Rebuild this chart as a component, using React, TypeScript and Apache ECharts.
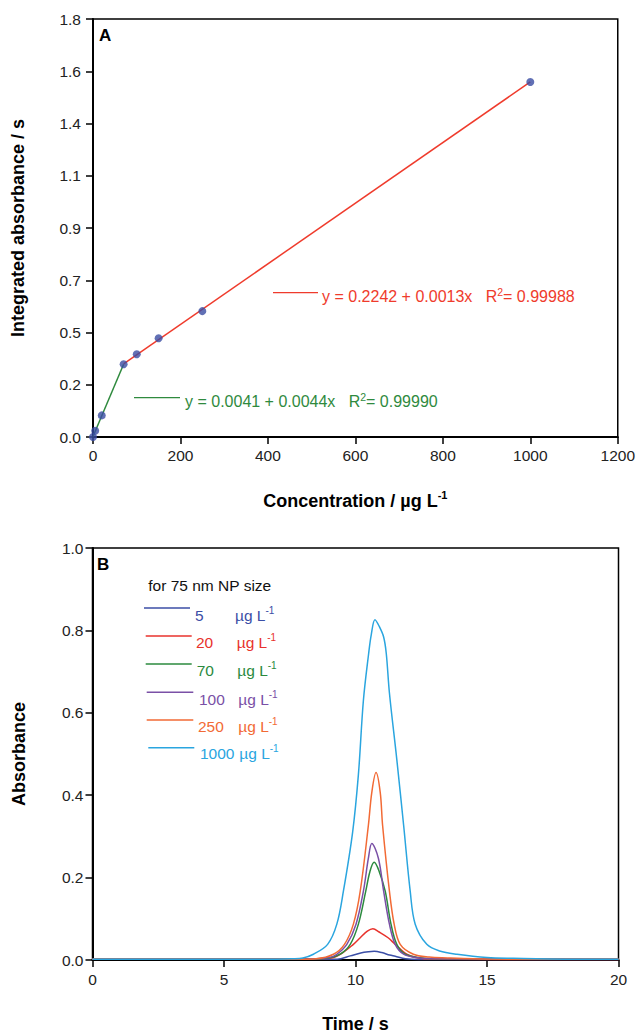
import React, { useEffect, useRef } from "react";
import * as echarts from "echarts";

// ---------- Panel A data ----------
const concX = [0, 5, 20, 70, 100, 150, 250, 1000];
const integratedAbs = [0, 0.027, 0.093, 0.313, 0.356, 0.425, 0.542, 1.529];
const greenFit: [number, number][] = [[0, 0.002], [70, 0.313]];
const redFit: [number, number][] = [[70, 0.315], [1000, 1.529]];
const yTickLabelsA = ["0.0", "0.2", "0.5", "0.7", "0.9", "1.1", "1.4", "1.6", "1.8"];
const xTickLabelsA = ["0", "200", "400", "600", "800", "1000", "1200"];

// ---------- Panel B data (time s, absorbance) ----------
const trace5: [number, number][] = [
  [0, 0.002], [4, 0.002], [8, 0.002], [9.3, 0.002], [9.8, 0.01], [10.2, 0.017], [10.5, 0.02],
  [10.71, 0.021], [11.0, 0.018], [11.3, 0.012], [11.51, 0.009], [11.9, 0.003], [12.4, 0.001],
  [14, 0.001], [20, 0.001],
];
const trace20: [number, number][] = [
  [0, 0.002], [4, 0.002], [8, 0.002], [9.0, 0.004], [9.42, 0.014], [9.92, 0.038], [10.18, 0.054],
  [10.45, 0.07], [10.66, 0.076], [10.9, 0.068], [11.24, 0.054], [11.51, 0.038], [11.95, 0.014],
  [12.4, 0.005], [13, 0.002], [20, 0.001],
];
const trace70: [number, number][] = [
  [0, 0.002], [4, 0.002], [8, 0.002], [9.0, 0.005], [9.42, 0.014], [9.8, 0.038], [10.11, 0.087],
  [10.39, 0.167], [10.55, 0.215], [10.71, 0.237], [10.9, 0.215], [11.13, 0.167], [11.35, 0.087],
  [11.57, 0.038], [11.89, 0.014], [12.4, 0.006], [13, 0.003], [20, 0.002],
];
const trace100: [number, number][] = [
  [0, 0.002], [4, 0.002], [8, 0.002], [9.0, 0.006], [9.29, 0.014], [9.67, 0.038], [10.02, 0.087],
  [10.3, 0.167], [10.49, 0.247], [10.62, 0.283], [10.87, 0.247], [11.07, 0.167], [11.29, 0.087],
  [11.51, 0.038], [11.83, 0.014], [12.3, 0.006], [13, 0.003], [20, 0.002],
];
const trace250: [number, number][] = [
  [0, 0.002], [4, 0.002], [8, 0.002], [8.5, 0.003], [9.16, 0.014], [9.58, 0.038], [9.92, 0.087],
  [10.18, 0.167], [10.49, 0.327], [10.62, 0.407], [10.78, 0.455], [10.94, 0.407], [11.03, 0.327],
  [11.29, 0.167], [11.47, 0.087], [11.7, 0.038], [12.2, 0.014], [12.8, 0.007], [13.5, 0.005],
  [14.5, 0.003], [16, 0.002], [20, 0.002],
];
const trace1000: [number, number][] = [
  [0, 0.002], [4, 0.002], [7, 0.002], [7.6, 0.003], [8.0, 0.005], [8.4, 0.014], [8.94, 0.038],
  [9.29, 0.087], [9.54, 0.167], [9.89, 0.31], [10.11, 0.45], [10.3, 0.63], [10.5, 0.744],
  [10.6, 0.79], [10.74, 0.826], [10.9, 0.81], [11.07, 0.784], [11.17, 0.744], [11.29, 0.648],
  [11.57, 0.487], [11.83, 0.327], [12.08, 0.167], [12.27, 0.087], [12.71, 0.038], [13.2, 0.022],
  [13.86, 0.014], [15, 0.006], [16, 0.004], [18, 0.002], [20, 0.002],
];
const legendNums = ["5", "20", "70", "100", "250", "1000"];
const seriesColors = ["#3b4ea6", "#e8322c", "#2b8a3e", "#7a50a6", "#f26a35", "#2aa5df"];
const traces = [trace5, trace20, trace70, trace100, trace250, trace1000];
const yTickLabelsB = ["0.0", "0.2", "0.4", "0.6", "0.8", "1.0"];
const xTickLabelsB = ["0", "5", "10", "15", "20"];

const FONT = "'Liberation Sans', Arial, Helvetica, sans-serif";

export default function App() {
  const ref = useRef<HTMLDivElement>(null);
  useEffect(() => {
    if (!ref.current) return;
    const chart = echarts.init(ref.current, undefined, { renderer: "svg" });

    const axisCommon = {
      axisLine: { show: true, lineStyle: { color: "#000", width: 2 } },
      axisTick: { show: true, inside: false, length: 7, lineStyle: { color: "#000", width: 1.5 } },
      splitLine: { show: false },
    };
    const labelStyle = { color: "#222", fontSize: 15.5, fontFamily: FONT };
    const nameStyle = {
      color: "#000",
      fontSize: 18,
      fontWeight: "bold",
      fontFamily: FONT,
      rich: {
        b: { fontSize: 18, fontWeight: "bold", fontFamily: FONT, color: "#000" },
        s: { fontSize: 11, fontWeight: "bold", fontFamily: FONT, color: "#000", verticalAlign: "top", padding: [0, 0, 12, 0] },
      },
    };

    const legendGraphics: any[] = [];
    const lineRows = [
      { y: 608, x1: 144, x2: 190, nx: 195, ux: 235, ty: 615 },
      { y: 636, x1: 145.7, x2: 191.7, nx: 196, ux: 236.7, ty: 642.7 },
      { y: 664, x1: 145.7, x2: 191.7, nx: 196.7, ux: 237.3, ty: 670.7 },
      { y: 692.3, x1: 146.7, x2: 193.3, nx: 199, ux: 238.3, ty: 699 },
      { y: 720, x1: 146.7, x2: 193.3, nx: 198, ux: 238.3, ty: 726.7 },
      { y: 747.7, x1: 148.3, x2: 194.3, nx: 200, ux: 239.3, ty: 753.3 },
    ];
    lineRows.forEach((r, i) => {
      const c = seriesColors[i];
      legendGraphics.push({
        type: "line",
        shape: { x1: r.x1, y1: r.y, x2: r.x2, y2: r.y },
        style: { stroke: c, lineWidth: 1.5 },
      });
      legendGraphics.push({
        type: "text",
        x: r.nx,
        y: r.ty,
        style: { text: legendNums[i], fill: c, font: `15.5px ${FONT}`, verticalAlign: "middle" },
      });
      legendGraphics.push({
        type: "text",
        x: r.ux,
        y: r.ty,
        style: {
          text: "{n|µg L}{s|-1}",
          verticalAlign: "middle",
          rich: {
            n: { fill: c, fontSize: 15.5, fontFamily: FONT },
            s: { fill: c, fontSize: 10, fontFamily: FONT, verticalAlign: "top", padding: [0, 0, 10, 0] },
          } as any,
        },
      });
    });

    const option: any = {
      animation: false,
      backgroundColor: "#fff",
      grid: [
        { left: 93, top: 19, width: 527, height: 418, show: true, borderColor: "#000", borderWidth: 1.5 },
        { left: 92.5, top: 548, width: 526, height: 415, show: true, borderColor: "#000", borderWidth: 1.5 },
      ],
      xAxis: [
        {
          gridIndex: 0,
          type: "value",
          min: 0,
          max: 1200,
          interval: 200,
          ...axisCommon,
          axisLabel: { ...labelStyle, margin: 10, formatter: (v: number) => xTickLabelsA[Math.round(v / 200)] },
          name: "{b|Concentration / µg L}{s|-1}",
          nameLocation: "middle",
          nameGap: 52,
          nameTextStyle: nameStyle,
        },
        {
          gridIndex: 1,
          type: "value",
          min: 0,
          max: 20,
          interval: 5,
          ...axisCommon,
          axisLabel: { ...labelStyle, margin: 11, formatter: (v: number) => xTickLabelsB[Math.round(v / 5)] },
          name: "Time / s",
          nameLocation: "middle",
          nameGap: 55,
          nameTextStyle: nameStyle,
        },
      ],
      yAxis: [
        {
          gridIndex: 0,
          type: "value",
          min: 0,
          max: 1.8,
          interval: 0.225,
          ...axisCommon,
          axisLabel: { ...labelStyle, margin: 12, formatter: (v: number) => yTickLabelsA[Math.round(v / 0.225)] },
          name: "Integrated absorbance / s",
          nameLocation: "middle",
          nameGap: 66,
          nameTextStyle: nameStyle,
        },
        {
          gridIndex: 1,
          type: "value",
          min: 0,
          max: 1.0,
          interval: 0.2,
          ...axisCommon,
          axisLabel: { ...labelStyle, margin: 9, formatter: (v: number) => yTickLabelsB[Math.round(v / 0.2)] },
          name: "Absorbance",
          nameLocation: "middle",
          nameGap: 65,
          nameTextStyle: nameStyle,
        },
      ],
      series: [
        {
          type: "line",
          name: "fit low",
          xAxisIndex: 0,
          yAxisIndex: 0,
          data: greenFit,
          symbol: "none",
          lineStyle: { color: "#2f8a3e", width: 1.5 },
          z: 2,
        },
        {
          type: "line",
          name: "fit high",
          xAxisIndex: 0,
          yAxisIndex: 0,
          data: redFit,
          symbol: "none",
          lineStyle: { color: "#ef3b2c", width: 1.5 },
          z: 2,
        },
        {
          type: "scatter",
          name: "points",
          xAxisIndex: 0,
          yAxisIndex: 0,
          data: concX.map((x, i) => [x, integratedAbs[i]]),
          symbolSize: 8,
          itemStyle: { color: "#3a4ca3" },
          clip: false,
          z: 5,
        },
        ...traces.map((t, i) => ({
          type: "line",
          name: legendNums[i] + " µg L-1",
          xAxisIndex: 1,
          yAxisIndex: 1,
          data: t,
          symbol: "none",
          smooth: 0.35,
          lineStyle: { color: seriesColors[i], width: 1.5 },
          z: 3,
        })),
      ],
      graphic: [
        {
          type: "text",
          x: 99,
          y: 35,
          style: { text: "A", font: `bold 17px ${FONT}`, fill: "#000", verticalAlign: "middle" },
        },
        {
          type: "text",
          x: 97,
          y: 564,
          style: { text: "B", font: `bold 17px ${FONT}`, fill: "#000", verticalAlign: "middle" },
        },
        {
          type: "line",
          shape: { x1: 273, y1: 292.7, x2: 318, y2: 292.7 },
          style: { stroke: "#ef3b2c", lineWidth: 1.2 },
        },
        {
          type: "text",
          x: 322,
          y: 296.5,
          style: {
            text: "{a|y = 0.2242 + 0.0013x   R}{s|2}{a|= 0.99988}",
            verticalAlign: "middle",
            rich: {
              a: { fill: "#ef3b2c", fontSize: 16, fontFamily: FONT },
              s: { fill: "#ef3b2c", fontSize: 10.5, fontFamily: FONT, verticalAlign: "top", padding: [0, 0, 10, 0] },
            } as any,
          },
        },
        {
          type: "line",
          shape: { x1: 134, y1: 397.7, x2: 180, y2: 397.7 },
          style: { stroke: "#2f8a3e", lineWidth: 1.2 },
        },
        {
          type: "text",
          x: 185,
          y: 401.7,
          style: {
            text: "{a|y = 0.0041 + 0.0044x   R}{s|2}{a|= 0.99990}",
            verticalAlign: "middle",
            rich: {
              a: { fill: "#2f8a3e", fontSize: 16, fontFamily: FONT },
              s: { fill: "#2f8a3e", fontSize: 10.5, fontFamily: FONT, verticalAlign: "top", padding: [0, 0, 10, 0] },
            } as any,
          },
        },
        {
          type: "text",
          x: 148.3,
          y: 585,
          style: { text: "for 75 nm NP size", font: `15.5px ${FONT}`, fill: "#111", verticalAlign: "middle" },
        },
        ...legendGraphics,
      ],
    };
    chart.setOption(option);
    return () => chart.dispose();
  }, []);

  return (
    <div
      ref={ref}
      style={{ position: "absolute", left: 0, top: 0, width: 638, height: 1034, background: "#fff" }}
    />
  );
}
